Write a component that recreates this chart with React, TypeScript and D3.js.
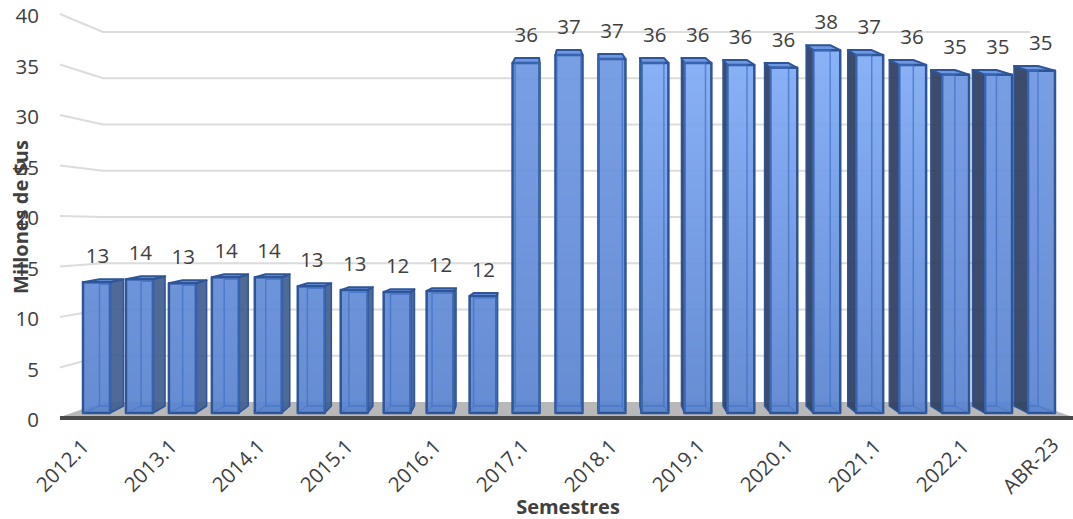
import React from "react";
import * as d3 from "d3";

const categories = ["2012.1","2012.2","2013.1","2013.2","2014.1","2014.2","2015.1","2015.2","2016.1","2016.2","2017.1","2017.2","2018.1","2018.2","2019.1","2019.2","2020.1","2020.2","2021.1","2021.2","2022.1","2022.2","ABR-23"];
const values = [13.3,13.6,13.2,13.8,13.8,12.9,12.5,12.3,12.4,11.9,35.6,36.4,36.0,35.6,35.6,35.4,35.1,36.9,36.4,35.4,34.4,34.4,34.8];
const valueLabels = [13,14,13,14,14,13,13,12,12,12,36,37,37,36,36,36,36,38,37,36,35,35,35];
const yTicks = [0,5,10,15,20,25,30,35,40];
const xTickLabels = categories.filter((_, i) => i % 2 === 0);

const W = 1073, H = 519;
const FONT = "'Open Sans', sans-serif";
const TEXT = "#404040";

const xFront = d3.scaleLinear().domain([0, 22]).range([96.5, 1041.5]);
const xLabel = d3.scaleLinear().domain([0, 22]).range([97.5, 1040.7]);
const xTickText = d3.scaleLinear().domain([0, 22]).range([62, 1030]);
const yFront = d3.scaleLinear().domain([0, 36]).range([413, 59]);
const yWall = d3.scaleLinear().domain([0, 40]).range([402, 32]);
const yTick = d3.scaleLinear().domain([0, 40]).range([418, 14]);
const depth = d3.scaleLinear().domain([0, 22]).range([15, -15.5]);
const topRise = d3.scaleLinear().domain([282, 50]).range([3, 5]);
const pts = (p: number[][]) => p.map(q => q.join(",")).join(" ");

export default function App() {
  const halfF = 13.5, halfB = 12;
  return (
    <svg width={W} height={H} viewBox={`0 0 ${W} ${H}`} style={{ position: "fixed", left: 0, top: 0, background: "#fff" }}>
      <defs>
        <linearGradient id="frontBright" gradientUnits="userSpaceOnUse" x1="0" y1="45" x2="0" y2="413">
          <stop offset="0" stopColor="#82adf6" />
          <stop offset="0.45" stopColor="#6f9ae6" />
          <stop offset="1" stopColor="#5a84cf" />
        </linearGradient>
        <linearGradient id="frontPlain" gradientUnits="userSpaceOnUse" x1="0" y1="45" x2="0" y2="413">
          <stop offset="0" stopColor="#6f98e2" />
          <stop offset="0.45" stopColor="#678fdb" />
          <stop offset="1" stopColor="#5a84cf" />
        </linearGradient>
        <filter id="soft" x="0" y="0" width="100%" height="100%" filterUnits="userSpaceOnUse" primitiveUnits="userSpaceOnUse">
          <feGaussianBlur stdDeviation="0.45" />
        </filter>
      </defs>
      {/* back wall grid */}
      {yTicks.filter(t => t > 0).map(t => (
        <polyline key={t} fill="none" stroke="#dcdcdc" strokeWidth={2}
          points={pts([[60, yTick(t)], [103, yWall(t)], [1030, yWall(t)]])} />
      ))}
      {/* floor */}
      <polygon fill="#b8b8b8" points={pts([[60, 417], [103, yWall(0)], [1030, yWall(0)], [1073, 417]])} />
      <line x1={60} x2={1073} y1={418} y2={418} stroke="#4a4a4a" strokeWidth={4} />

      {/* bars */}
      <g filter="url(#soft)">
      {values.map((v, i) => {
        const cx = xFront(i), d = depth(i);
        const fy = yFront(v), by0 = yFront(0);
        const rise = topRise(fy), rise0 = 7;
        const l = cx - halfF, r = cx + halfF;
        const bl = cx + d - halfB, br = cx + d + halfB;
        const by = fy - rise, bb = by0 - rise0;
        const stroke = "#2f5597";
        const grad = i >= 13 && i <= 19 ? "url(#frontBright)" : "url(#frontPlain)";
        return (
          <g key={categories[i]} strokeLinejoin="round">
            {d > 0 && <polygon fill="#3f5d8f" fillOpacity={0.92} stroke={stroke} strokeWidth={1.5} points={pts([[r, fy], [br, by], [br, bb], [r, by0]])} />}
            {d < 0 && <polygon fill="#2a3c60" fillOpacity={0.92} stroke={stroke} strokeWidth={1.5} points={pts([[l, fy], [bl, by], [bl, bb], [l, by0]])} />}
            <polygon fill="#6e98e2" stroke={stroke} strokeWidth={2} points={pts([[l, fy], [bl, by], [br, by], [r, fy]])} />
            <rect x={l} y={fy} width={r - l} height={by0 - fy} fill={grad} fillOpacity={0.93} stroke={stroke} strokeWidth={2.5} />
            <polygon fill="none" stroke="#3f70c4" strokeOpacity={0.7} strokeWidth={1.5}
              points={pts([[Math.max(bl, l), by + 5], [Math.min(br, r), by + 5], [Math.min(br, r), bb], [Math.max(bl, l), bb]])} />
            <line x1={l} y1={by0} x2={Math.max(bl, l)} y2={bb} stroke="#3f70c4" strokeOpacity={0.7} strokeWidth={1} />
            <line x1={r} y1={by0} x2={Math.min(br, r)} y2={bb} stroke="#3f70c4" strokeOpacity={0.7} strokeWidth={1} />
          </g>
        );
      })}
      </g>

      {/* value labels */}
      {values.map((v, i) => (
        <text key={i} x={xLabel(i)} y={yFront(v) - topRise(yFront(v)) - 24}
          textAnchor="middle" dominantBaseline="central" fontFamily={FONT} fontSize={20.5} fill={TEXT}>
          {valueLabels[i]}
        </text>
      ))}

      {/* y axis */}
      {yTicks.map(t => (
        <text key={t} x={39} y={yTick(t) + 1} textAnchor="end" dominantBaseline="central" fontFamily={FONT} fontSize={20.5} fill={TEXT}>{t}</text>
      ))}

      {/* x axis */}
      {xTickLabels.map((c, k) => (
        <text key={c} transform={`translate(${xTickText(k * 2)},${465}) rotate(-45)`} textAnchor="middle" dominantBaseline="central"
          fontFamily={FONT} fontSize={20.5} fill={TEXT}>{c}</text>
      ))}

      {/* titles */}
      <text transform="translate(20,217) rotate(-90)" textAnchor="middle" dominantBaseline="central"
        fontFamily={FONT} fontSize={20} fontWeight={700} fill={TEXT}>Millones de $us</text>
      <text x={568} y={506} textAnchor="middle" dominantBaseline="central"
        fontFamily={FONT} fontSize={20} fontWeight={700} fill={TEXT}>Semestres</text>
    </svg>
  );
}
